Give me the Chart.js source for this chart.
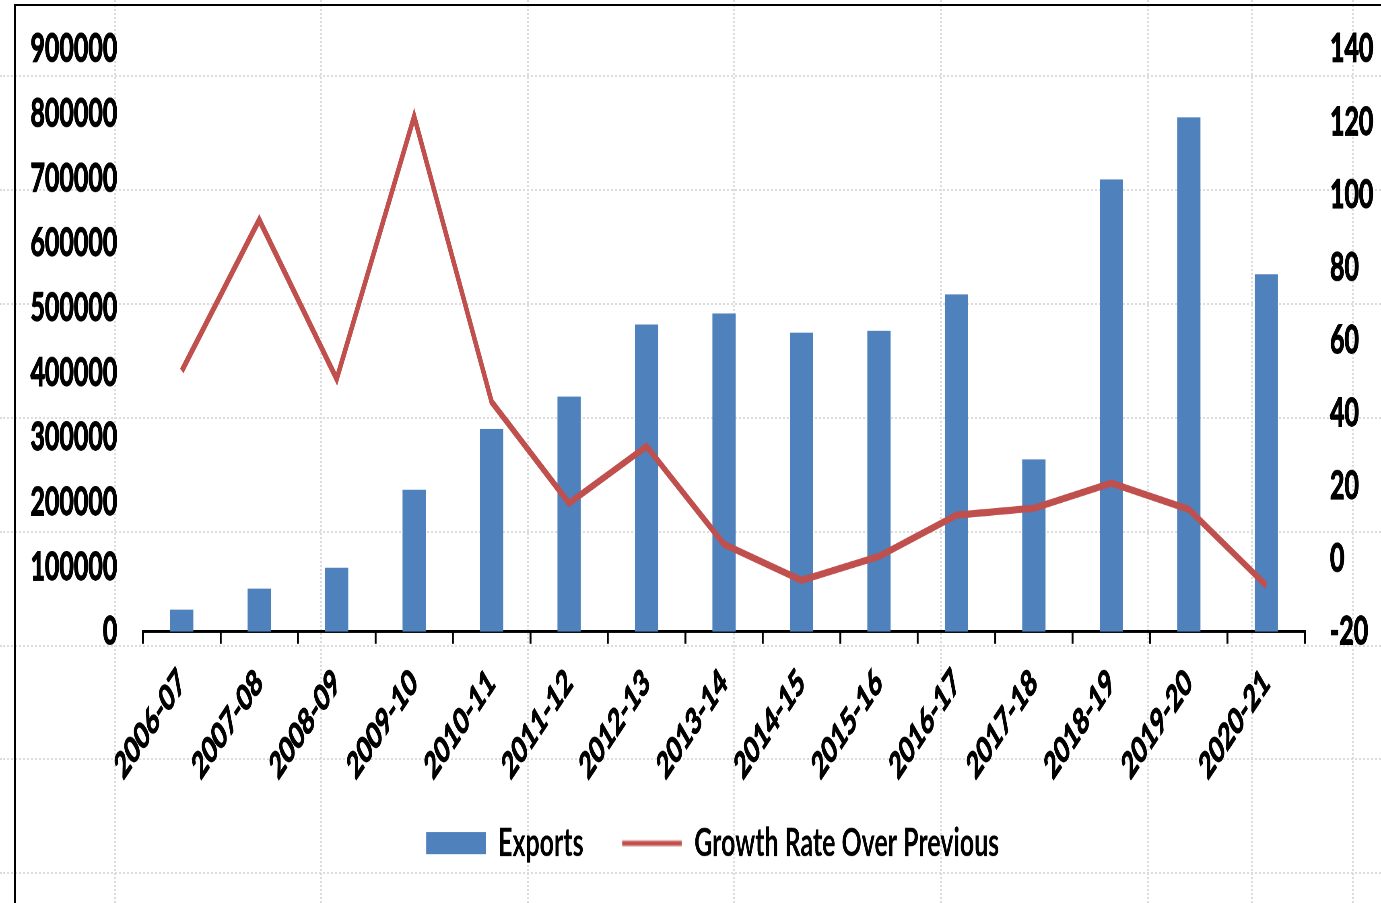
<!DOCTYPE html>
<html>
<head>
<meta charset="utf-8">
<title>Exports and growth rate</title>
<script src="https://cdn.jsdelivr.net/npm/chart.js@4.4.1/dist/chart.umd.min.js"></script>
<style>
  html, body { margin: 0; padding: 0; background: #fff; }
  #page { position: relative; width: 1381px; height: 903px; overflow: hidden; }
  .gx { position: absolute; top: 0; height: 903px; border-left: 2px dotted #dcdcdc; }
  .gy { position: absolute; left: 0; width: 1381px; border-top: 2px dotted #dcdcdc; }
  #frame { position: absolute; left: 14px; top: 4px; width: 1400px; height: 920px;
           border-left: 2px solid #000; border-top: 2px solid #000; }
  /* the picture is squeezed sideways and stretched upward, so the chart is drawn
     on a larger canvas and scaled into the 1381x903 box */
  #wrap { position: absolute; left: 0; top: 0; width: 1716px; height: 695px;
          transform: scale(0.80478, 1.29928); transform-origin: 0 0; }
</style>
</head>
<body>
<div id="page">
  <div id="frame"></div>
  <div id="wrap"><canvas id="exportChart"></canvas></div>
</div>
<script>
// data
var years = ['2006-07', '2007-08', '2008-09', '2009-10', '2010-11', '2011-12', '2012-13', '2013-14',
             '2014-15', '2015-16', '2016-17', '2017-18', '2018-19', '2019-20', '2020-21'];
var exportsValues = [34000, 66500, 99000, 219500, 313500, 363000, 474500, 491500,
                     462000, 465000, 521000, 266000, 698500, 794500, 552000];
var growthValues = [51.6, 93.1, 49.4, 121.5, 43.1, 15.3, 30.9, 4.0,
                    -5.9, 0.7, 12.0, 13.9, 20.8, 13.6, -7.3];
var leftTicks = [0, 100000, 200000, 300000, 400000, 500000, 600000, 700000, 800000, 900000];
var rightTicks = [-20, 0, 20, 40, 60, 80, 100, 120, 140];

var barColor = '#4F81BD';
var lineColor = '#C0504D';

// faint sheet grid behind the chart
var sheetX = [114, 320, 527, 733, 940, 1147, 1251, 1352];
var sheetY = [75, 189, 303, 417, 531, 645, 758, 872];
var page = document.getElementById('page');
sheetX.forEach(function(x) {
    var d = document.createElement('div');
    d.className = 'gx';
    d.style.left = x + 'px';
    page.insertBefore(d, page.firstChild);
});
sheetY.forEach(function(y) {
    var d = document.createElement('div');
    d.className = 'gy';
    d.style.top = y + 'px';
    page.insertBefore(d, page.firstChild);
});

// legend marks: blank lead-in on the left so the two entries sit further apart
var markLead = 37.6, markW = 74, markH = 17;
function legendMark(kind) {
    var c = document.createElement('canvas');
    c.width = Math.round(markLead + markW);
    c.height = markH;
    var g = c.getContext('2d');
    var x0 = c.width - markW;
    if (kind === 'bar') {
        g.fillStyle = barColor;
        g.fillRect(x0, 0, markW, markH);
    } else {
        g.strokeStyle = lineColor;
        g.lineWidth = 4;
        g.beginPath();
        g.moveTo(x0, markH / 2);
        g.lineTo(x0 + markW, markH / 2);
        g.stroke();
    }
    return c;
}

// axis labels sit well away from the plot, but that gap must not push the plot down
function yAxisFit(width) {
    return function(s) {
        s.width = width;
        s.paddingTop = 0;
        s.paddingBottom = 0;
    };
}

Chart.defaults.font.family = "Lato, 'Open Sans', sans-serif";
Chart.defaults.color = '#000';

var labelFont = { size: 31, weight: 'bold' };

var ctx = document.getElementById('exportChart').getContext('2d');
var exportChart = new Chart(ctx, {
    type: 'bar',
    data: {
        labels: years,
        datasets: [{
            label: 'Exports',
            data: exportsValues,
            backgroundColor: barColor,
            borderWidth: 0,
            barPercentage: 0.3,
            categoryPercentage: 1.0,
            yAxisID: 'y',
            pointStyle: legendMark('bar'),
            order: 1
        }, {
            type: 'line',
            label: 'Growth Rate Over Previous',
            data: growthValues,
            borderColor: lineColor,
            backgroundColor: lineColor,
            borderWidth: 5.5,
            pointRadius: 0,
            tension: 0,
            fill: false,
            yAxisID: 'y1',
            pointStyle: legendMark('line'),
            order: 0
        }]
    },
    options: {
        responsive: true,
        maintainAspectRatio: false,
        devicePixelRatio: 2,
        animation: false,
        layout: { padding: { top: 37.7, left: 17, right: 0, bottom: 20.45 } },
        plugins: {
            tooltip: { enabled: false },
            legend: {
                position: 'bottom',
                labels: {
                    usePointStyle: true,
                    pointStyleWidth: Math.round(markLead + markW),
                    boxHeight: markH,
                    padding: 10,
                    color: '#000',
                    font: labelFont,
                    sort: function(a, b) { return a.datasetIndex - b.datasetIndex; }
                }
            }
        },
        scales: {
            x: {
                offset: true,
                grid: { display: true, drawOnChartArea: false, drawTicks: true, tickLength: 9.2,
                        color: '#000', lineWidth: 2.4, offset: true },
                border: { display: true, color: '#000', width: 2 },
                ticks: { autoSkip: false, minRotation: 43, maxRotation: 43, padding: 13,
                         color: '#000', font: { size: 28, weight: 'bold' },
                         textStrokeColor: '#000', textStrokeWidth: 1 },
                afterFit: function(s) {
                    s.height = 137.35;
                    s.paddingLeft = 0;
                    s.paddingRight = 0;
                }
            },
            y: {
                position: 'left',
                min: leftTicks[0],
                max: leftTicks[leftTicks.length - 1],
                grid: { display: false, drawTicks: false },
                border: { display: false },
                ticks: { stepSize: leftTicks[1] - leftTicks[0], padding: 32, color: '#000',
                         font: labelFont, textStrokeColor: '#000', textStrokeWidth: 1,
                         callback: function(v) { return String(v); } },
                afterFit: yAxisFit(160.7)
            },
            y1: {
                position: 'right',
                min: rightTicks[0],
                max: rightTicks[rightTicks.length - 1],
                grid: { display: false, drawTicks: false },
                border: { display: false },
                ticks: { stepSize: rightTicks[1] - rightTicks[0], padding: 31, color: '#000',
                         font: labelFont, textStrokeColor: '#000', textStrokeWidth: 1,
                         callback: function(v) { return String(v); } },
                afterFit: yAxisFit(94.4)
            }
        }
    }
});
</script>
</body>
</html>
